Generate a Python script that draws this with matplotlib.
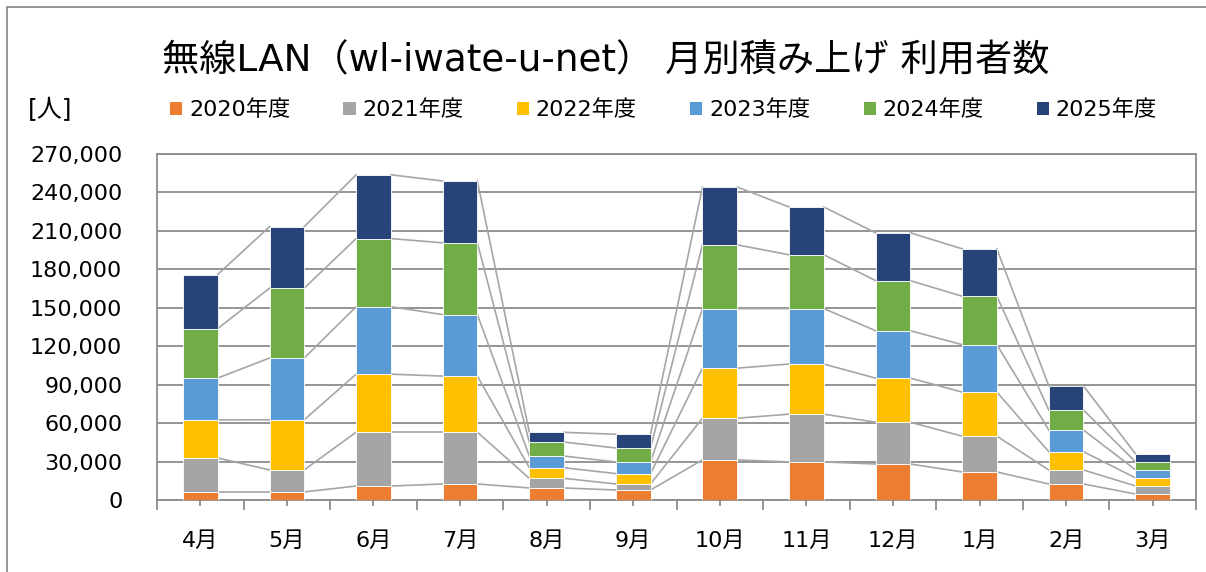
import numpy as np
import matplotlib.pyplot as plt
from matplotlib.patches import Patch, Rectangle

plt.rcParams['font.family'] = ['DejaVu Sans', 'Noto Sans CJK JP']

# data
months = ['4月', '5月', '6月', '7月', '8月', '9月', '10月', '11月', '12月', '1月', '2月', '3月']
years = ['2020年度', '2021年度', '2022年度', '2023年度', '2024年度', '2025年度']
fy2020 = [6300, 6300, 10900, 12500, 9400, 7800, 31300, 29700, 28100, 21900, 12500, 4700]
fy2021 = [26500, 17200, 42000, 40400, 7500, 4700, 32500, 37300, 32600, 27900, 10900, 6300]
fy2022 = [29700, 39100, 45300, 43800, 8300, 8100, 39100, 39100, 34400, 34400, 14300, 6300]
fy2023 = [32600, 48200, 52600, 48000, 9100, 9100, 46400, 43300, 37000, 37000, 16900, 6300]
fy2024 = [38600, 54500, 53200, 56000, 10900, 10900, 49800, 42000, 39100, 37800, 15600, 6300]
fy2025 = [42200, 48000, 49800, 48200, 7600, 10700, 45100, 37300, 37300, 37000, 18800, 6300]
colors = ['#ED7D31', '#A5A5A5', '#FFC000', '#5B9BD5', '#70AD47', '#264478']

series = [fy2020, fy2021, fy2022, fy2023, fy2024, fy2025]

fig = plt.figure(figsize=(12.06, 5.72), dpi=100)
ax = fig.add_axes([157/1206, 1-500/572, (1196-157)/1206, (500-154)/572])

x = np.arange(len(months))
w = 0.4
bottom = np.zeros(len(months))
cums = []
for vals, c in zip(series, colors):
    v = np.array(vals, dtype=float)
    ax.bar(x, v, w, bottom=bottom, color=c, edgecolor='white', linewidth=0.6, zorder=3)
    bottom = bottom + v
    cums.append(bottom.copy())

# series lines
for cum in cums:
    for i in range(len(months)-1):
        ax.plot([x[i]+w/2, x[i+1]-w/2], [cum[i], cum[i+1]], color='#A6A6A6', lw=1.2, zorder=2)

ax.set_xlim(-0.5, len(months)-0.5)
ax.set_ylim(0, 270000)
ax.set_yticks(np.arange(0, 270001, 30000))
ax.set_yticklabels(['{:,}'.format(v) for v in range(0, 270001, 30000)])
ax.yaxis.grid(True, color='#8C8C8C', lw=1.3, zorder=0)
ax.set_axisbelow(True)
ax.tick_params(axis='y', length=0, pad=25, labelsize=16)

ax.set_xticks(x)
ax.set_xticklabels(months)
ax.set_xticks(np.arange(-0.5, len(months)), minor=True)
ax.tick_params(axis='x', which='major', length=4.5, width=1.3, color='#8C8C8C', pad=18, labelsize=16)
ax.tick_params(axis='x', which='minor', length=7.5, width=1.3, color='#8C8C8C')
for s in ax.spines.values():
    s.set_color('#8C8C8C')
    s.set_linewidth(1.3)

fig.text(0.5025, 1-61/572, '無線LAN（wl-iwate-u-net） 月別積み上げ 利用者数', ha='center', va='center', fontsize=26.8)
fig.text(28/1206, 1-110/572, '[人]', ha='left', va='center', fontsize=18)

handles = [Patch(facecolor=c, edgecolor='none') for c in colors]
fig.legend(handles, years, loc='center left', bbox_to_anchor=(170/1206, 1-110/572), ncol=6,
           frameon=False, fontsize=16, handlelength=0.55, handleheight=0.55,
           handletextpad=0.3, columnspacing=2.4, borderpad=0, borderaxespad=0)

# outer chart frame
fig.patches.append(Rectangle((7/1206, -0.1), 1.2, 1.1-7/572, transform=fig.transFigure,
                             fill=False, edgecolor='#8C8C8C', lw=1.3))

fig.savefig('out.png', dpi=100)
